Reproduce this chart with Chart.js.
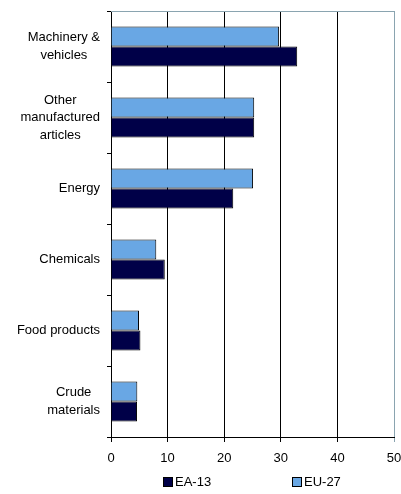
<!DOCTYPE html>
<html>
<head>
<meta charset="utf-8">
<script src="https://cdn.jsdelivr.net/npm/chart.js@4.4.0/dist/chart.umd.min.js"></script>
<style>
body{margin:0;background:#fff;font-family:"Liberation Sans",Arial,sans-serif;}
#wrap{position:relative;width:401px;height:494px;}
#legende{position:absolute;top:474px;left:0;width:401px;height:18px;font-size:13px;color:#000;}
.item{position:absolute;top:0;line-height:16px;white-space:nowrap;}
.boite{display:inline-block;width:8px;height:8px;border:1px solid #000;margin-right:2px;vertical-align:-1px;}
</style>
</head>
<body>
<div id="wrap">
  <canvas id="graphe" width="401" height="494"></canvas>
  <div id="legende">
    <span class="item" style="left:163px"><span class="boite" style="background:#000048"></span>EA-13</span>
    <span class="item" style="left:292px"><span class="boite" style="background:#69a7e4"></span>EU-27</span>
  </div>
</div>
<script>
// Donnees
const categories = [
    ['Machinery &', 'vehicles'],
    ['Other', 'manufactured', 'articles'],
    ['Energy'],
    ['Chemicals'],
    ['Food products'],
    ['Crude', 'materials']
];
const ea13 = [32.9, 25.3, 21.6, 9.5, 5.2, 4.6];
const eu27 = [29.7, 25.3, 25.1, 8.0, 4.95, 4.65];
const xMin = 0, xMax = 50, xPas = 10;

const policeAxe = '13px "Liberation Sans", Arial, sans-serif';

// Etiquettes de l'axe Y : lignes centrees entre elles, bloc aligne a droite
const etiquettesY = {
    id: 'etiquettesY',
    afterDraw(chart) {
        const ctx = chart.ctx;
        const y = chart.scales.y;
        const area = chart.chartArea;
        ctx.save();
        // bordure du haut
        ctx.strokeStyle = '#8aa4b0';
        ctx.lineWidth = 1;
        ctx.beginPath();
        ctx.moveTo(area.left, area.top + 0.5);
        ctx.lineTo(area.right + 1, area.top + 0.5);
        ctx.stroke();

        ctx.font = policeAxe;
        ctx.fillStyle = '#000';
        ctx.textBaseline = 'middle';
        ctx.textAlign = 'center';
        categories.forEach((lignes, i) => {
            const yc = y.getPixelForValue(i);
            const largeur = Math.max(...lignes.map(l => ctx.measureText(l).width));
            const xc = area.left - 11 - largeur / 2;
            const n = lignes.length;
            lignes.forEach((l, j) => {
                ctx.fillText(l, xc, yc + (j - (n - 1) / 2) * 17.5);
            });
        });
        ctx.restore();
    }
};

const config = {
    type: 'bar',
    data: {
        labels: categories,
        datasets: [
            {
                label: 'EU-27',
                data: eu27,
                backgroundColor: '#69a7e4',
                borderColor: '#000',
                borderWidth: 1,
                categoryPercentage: 0.56,
                barPercentage: 1
            },
            {
                label: 'EA-13',
                data: ea13,
                backgroundColor: '#000048',
                borderColor: '#000',
                borderWidth: 1,
                categoryPercentage: 0.56,
                barPercentage: 1
            }
        ]
    },
    options: {
        indexAxis: 'y',
        responsive: false,
        animation: false,
        layout: { padding: { top: 11, right: 7, bottom: 27, left: 0 } },
        plugins: {
            legend: { display: false },
            tooltip: { enabled: false }
        },
        scales: {
            x: {
                min: xMin,
                max: xMax,
                ticks: {
                    stepSize: xPas,
                    color: '#000',
                    font: { family: '"Liberation Sans", Arial, sans-serif', size: 13 },
                    padding: 9
                },
                grid: {
                    color: (c) => (c.tick && c.tick.value === xMax) ? '#8aa4b0' : '#000',
                    lineWidth: 1,
                    tickLength: 5
                },
                border: { color: '#000' },
                afterFit: (s) => {
                    s.height = 30;
                    s.paddingLeft = 0;
                    s.paddingRight = 0;
                }
            },
            y: {
                offset: true,
                ticks: { display: false },
                grid: {
                    offset: true,
                    drawOnChartArea: false,
                    color: '#000',
                    tickLength: 4
                },
                border: { color: '#000' },
                afterFit: (s) => { s.width = 111; }
            }
        }
    },
    plugins: [etiquettesY]
};

window.onload = function() {
    const ctx = document.getElementById('graphe').getContext('2d');
    new Chart(ctx, config);
};
</script>
</body>
</html>
